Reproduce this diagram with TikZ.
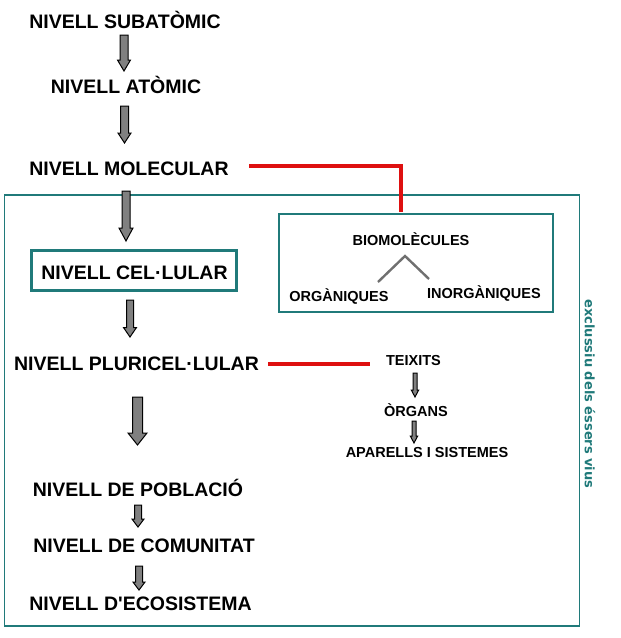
\documentclass[tikz,border=0pt]{standalone}
\usepackage{fontspec}
\setmainfont{Liberation Sans}
\newfontfamily\plainls{Liberation Sans}
\newfontfamily\vfont{DejaVu Sans}
\definecolor{tealc}{RGB}{32,122,122}
\definecolor{redc}{RGB}{222,16,16}
\definecolor{arrgray}{RGB}{128,128,128}
\definecolor{linegray}{RGB}{112,112,112}
% block arrow: x, ytop, ybottom, shaft half width, head half width, head length
\newcommand\blockarrow[6]{%
  \draw[blk] ({#1-#4},#2) -- ({#1+#4},#2) -- ({#1+#4},{#3-#6}) -- ({#1+#5},{#3-#6})
    -- (#1,#3) -- ({#1-#5},{#3-#6}) -- ({#1-#4},{#3-#6}) -- cycle;}
\begin{document}
\begin{tikzpicture}[x=1pt,y=-1pt,
  lvl/.style={font=\plainls\bfseries\fontsize{19.5}{20}\selectfont, text height=14pt, text depth=0pt, inner sep=0pt},
  sub/.style={font=\bfseries\fontsize{14.5}{16}\selectfont, text height=10.4pt, text depth=0pt, inner sep=0pt},
  tealbox/.style={draw=tealc, line width=1.4pt},
  redline/.style={draw=redc, line width=3.2pt},
  blk/.style={fill=arrgray, draw=black, line width=1pt, line join=miter},
  grayline/.style={draw=linegray, line width=2.4pt},
  sidetext/.style={font=\vfont\bfseries\fontsize{13}{15}\selectfont, text=tealc, rotate=-90, inner sep=0pt}
  ]
\useasboundingbox (0,0) rectangle (621,638);
\fill[white] (0,0) rectangle (621,638);

% big box
\node[tealbox, minimum width=575pt, minimum height=431pt, inner sep=0pt] (big) at (292,410.5) {};
% biomolecule box
\node[tealbox, minimum width=274pt, minimum height=98pt, inner sep=0pt] (biobox) at (416,263) {};
% cel.lular box
\node[draw=tealc, line width=2.6pt, minimum width=205pt, minimum height=40pt, inner sep=0pt] (celbox) at (134,270.5) {};

% level texts
\node[lvl] (sub) at (125,21) {NIVELL SUBATÒMIC};
\node[lvl] (atom) at (126,86.5) {NIVELL ATÒMIC};
\node[lvl] (mol) at (129,168) {NIVELL MOLECULAR};
\node[lvl] (cel) at (134.5,272.5) {NIVELL CEL·LULAR};
\node[lvl] (plur) at (136.5,363) {NIVELL PLURICEL·LULAR};
\node[lvl] (pob) at (138,489) {NIVELL DE POBLACIÓ};
\node[lvl] (com) at (144,545.5) {NIVELL DE COMUNITAT};
\node[lvl] (eco) at (140.5,603) {NIVELL D'ECOSISTEMA};

% small texts
\node[sub] (bio) at (411,240) {BIOMOLÈCULES};
\node[sub] (org) at (339,296) {ORGÀNIQUES};
\node[sub] (inorg) at (484,293.5) {INORGÀNIQUES};
\node[sub] (teix) at (413.5,360.5) {TEIXITS};
\node[sub] (organs) at (416,411) {ÒRGANS};
\node[sub] (apar) at (427,452.5) {APARELLS I SISTEMES};

% side text
\node[sidetext] (excl) at (590,394) {exclussiu dels éssers vius};

% block arrows
\blockarrow{124}{35}{71}{4}{6.5}{11}
\blockarrow{124.5}{106}{143}{4}{6.5}{10}
\blockarrow{126}{191}{241}{4}{7}{13}
\blockarrow{130}{300}{337}{3.5}{6.5}{9.5}
\blockarrow{137.5}{397}{445}{5}{9.5}{12}
\blockarrow{138}{505}{527}{3.5}{6}{8}
\blockarrow{139}{566}{590}{3.5}{6}{8}
\blockarrow{415}{373}{397}{2}{3.7}{7}
\blockarrow{414}{421}{443}{2}{3.7}{7}

% branch lines
\coordinate (apex) at (405,256);
\coordinate (lend) at (378,282);
\coordinate (rend) at (429,279);
\draw[grayline] (lend) -- (apex) -- (rend);

% red connectors
\coordinate (molr) at (249,166);
\coordinate (bioin) at (401,212);
\draw[redline] (molr) -| (bioin);
\coordinate (plurr) at (268,364);
\coordinate (teixl) at (370,364);
\draw[redline] (plurr) -- (teixl);
\end{tikzpicture}
\end{document}
